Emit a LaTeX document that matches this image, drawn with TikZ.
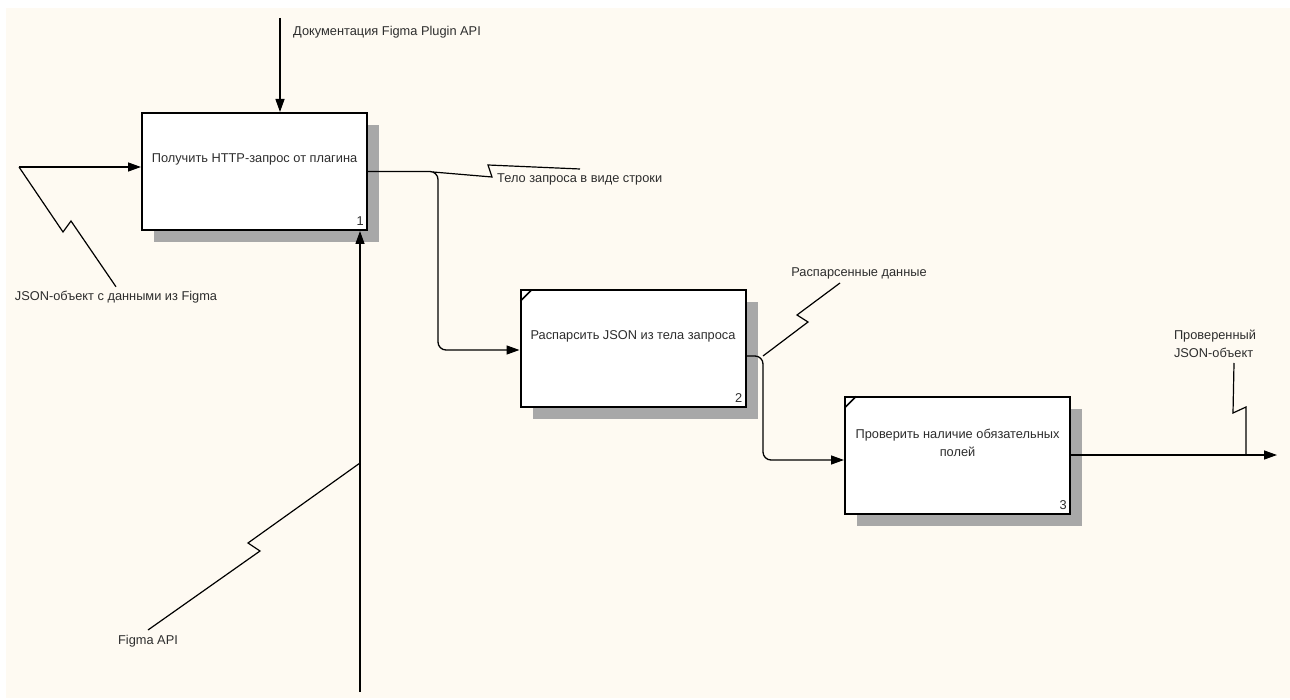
\documentclass[tikz,border=0pt]{standalone}
\usepackage{fontspec}
\setmainfont{Liberation Sans}
\usetikzlibrary{arrows.meta, positioning, calc, shadows}

\definecolor{bgcream}{RGB}{254,250,242}
\definecolor{shadowgray}{RGB}{168,168,168}
\definecolor{labelgray}{RGB}{45,45,45}

\tikzset{
  proc/.style={draw, line width=2pt, fill=white, minimum width=225pt, minimum height=117pt, inner sep=0pt,
    drop shadow={shadow xshift=12pt, shadow yshift=-12pt, opacity=1, fill=shadowgray}},
  ptext/.style={font=\fontsize{12.8}{18}\selectfont, text=labelgray, align=center, inner sep=0pt},
  flow/.style={line width=1.3pt, -{Triangle[length=13pt,width=9pt]}},
  squig/.style={line width=1.2pt},
}

\begin{document}
\begin{tikzpicture}[x=1pt, y=-1pt]
    % Page and background
    \useasboundingbox (0,0) rectangle (1290,700);
    \fill[bgcream] (6,8) rectangle (1290,698);

    % Activity boxes
    \node[proc] (p1) at (254.5,171.5) {};
    \node[proc] (p2) at (633,348.5) {};
    \node[proc] (p3) at (957.5,455) {};

    % Box texts
    \node[ptext] (t1) at ([yshift=-47pt]p1.north) {Получить HTTP-запрос от плагина};
    \node[ptext] (t2) at ([yshift=-47pt]p2.north) {Распарсить JSON из тела запроса};
    \node[ptext] (t3) at ([yshift=-47pt]p3.north) {Проверить наличие обязательных\\полей};

    % Box numbers
    \node[ptext, anchor=south east] (n1) at ([shift={(-4pt,5pt)}]p1.south east) {1};
    \node[ptext, anchor=south east] (n2) at ([shift={(-4pt,5pt)}]p2.south east) {2};
    \node[ptext, anchor=south east] (n3) at ([shift={(-4pt,5pt)}]p3.south east) {3};

    % Corner ticks
    \draw[line width=1.5pt] ([shift={(1pt,-12pt)}]p2.north west) -- ([shift={(12pt,-1pt)}]p2.north west);
    \draw[line width=1.5pt] ([shift={(1pt,-12pt)}]p3.north west) -- ([shift={(12pt,-1pt)}]p3.north west);

    % Control
    \coordinate (ctl) at (280,18);
    \draw[flow] (ctl) -- (ctl |- p1.north);
    \node[ptext, anchor=west] (lctl) at (293,32) {Документация Figma Plugin API};

    % Input
    \coordinate (inp) at (19,167);
    \draw[flow] (inp) -- (inp -| p1.west);
    \node[ptext] (linp) at (116,297) {JSON-объект с данными из Figma};
    \draw[squig] (inp) -- ++(44,65) -- ++(8,-11) -- ([yshift=4pt]linp.north);

    % Output 1 to box 2
    \coordinate (j1) at (438,171.5);
    \draw[flow, rounded corners=8pt] (p1.east) -- (j1) |- ([yshift=-1.5pt]p2.west);
    \node[ptext, anchor=west] (lout1) at (497,179) {Тело запроса в виде строки};
    \draw[squig] (433,172) -- ++(59,5) -- ++(-4,-12) -- ++(92,4);

    % Output 2 to box 3
    \coordinate (j2) at (763,356);
    \draw[flow, rounded corners=8pt] ([yshift=-7.5pt]p2.east) -- (j2) |- ([yshift=-5pt]p3.west);
    \node[ptext] (lout2) at (859,273) {Распарсенные данные};
    \draw[squig] (j2) -- ++(45,-34) -- ++(-11,-7) -- ++(43,-32);

    % Output 3
    \coordinate (out) at (1277,455);
    \draw[flow] (p3.east) -- (out);
    \node[ptext, align=left] (lout3) at (1215,343.5) {Проверенный\\JSON-объект};
    \coordinate (j3) at (1246,455);
    \draw[squig] (j3) -- ++(0,-48) -- ++(-13,6) -- ++(1,-50);

    % Mechanism
    \coordinate (mech) at (360,692);
    \draw[flow] (mech) -- (mech |- p1.south);
    \node[ptext] (lmech) at (148,641) {Figma API};
    \coordinate (j4) at (360,463);
    \draw[squig] (j4) -- ++(-112,80) -- ++(12,8) -- ++(-112,79);
\end{tikzpicture}
\end{document}
